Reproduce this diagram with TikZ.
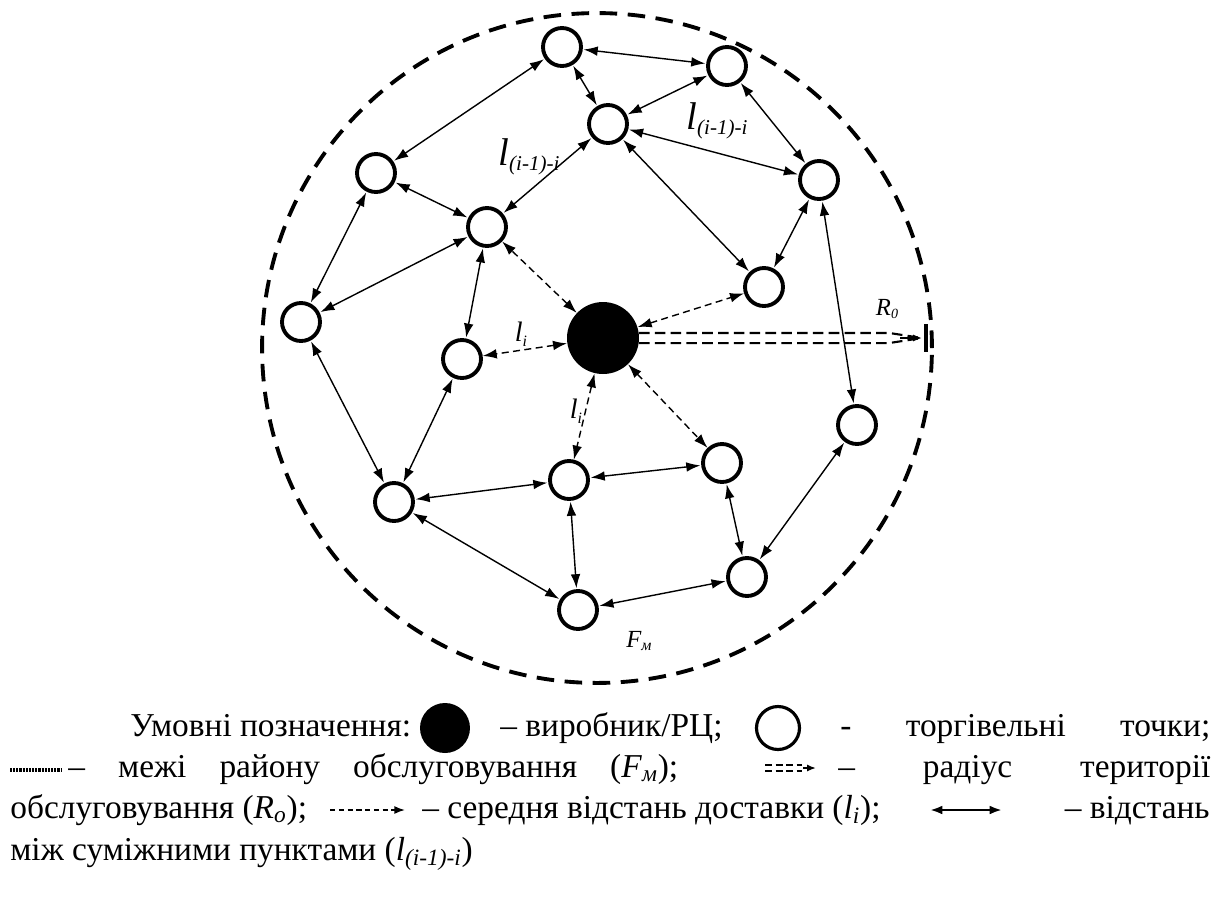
\documentclass[tikz,border=0pt]{standalone}
\usepackage{fontspec}
\setmainfont{Liberation Serif}
\usetikzlibrary{arrows.meta}

\begin{document}
\begin{tikzpicture}[
    x=0.02cm, y=-0.02cm,
    shop/.style={circle, draw, line width=2.2pt, minimum size=0.76cm, inner sep=0pt},
    hub/.style={circle, fill=black, minimum size=1.44cm, inner sep=0pt},
    link/.style={<->, line width=0.8pt, >={Latex[length=8pt,width=5.5pt]}, shorten <=0.5pt, shorten >=0.5pt},
    delivery/.style={<->, line width=0.8pt, dash pattern=on 4pt off 2.5pt, >={Latex[length=8pt,width=5.5pt]}},
    border/.style={line width=2.2pt, dash pattern=on 10pt off 6pt},
    rzone/.style={line width=1.2pt, dash pattern=on 6pt off 3pt},
    lbl/.style={font=\fontsize{14}{16}\selectfont\itshape, inner sep=0pt},
    biglbl/.style={font=\fontsize{22}{26}\selectfont\itshape, inner sep=0pt},
    legtext/.style={font=\fontsize{19}{22}\selectfont, anchor=base west, inner sep=0pt}
]
    \useasboundingbox (0,0) rectangle (1225,897);

    % Service area
    \draw[border] (597,348) circle[radius=6.7cm];

    % Producer / distribution centre
    \node[hub] (core) at (603,338) {};

    % Retail points
    \node[shop] (p1) at (562,47) {};
    \node[shop] (p2) at (727,66) {};
    \node[shop] (p3) at (608,124) {};
    \node[shop] (p4) at (376,173) {};
    \node[shop] (p5) at (819,180) {};
    \node[shop] (p6) at (487,227) {};
    \node[shop] (p7) at (764,287) {};
    \node[shop] (p8) at (301,322) {};
    \node[shop] (p9) at (462,359) {};
    \node[shop] (p10) at (857,425) {};
    \node[shop] (p11) at (722,463) {};
    \node[shop] (p12) at (569,480) {};
    \node[shop] (p13) at (394,502) {};
    \node[shop] (p14) at (747,577) {};
    \node[shop] (p15) at (578,610) {};

    % Links between neighbouring points
    \foreach \a/\b in {p1/p3, p1/p4, p1/p2, p3/p2, p3/p6, p3/p5, p3/p7, p4/p6,
                       p4/p8, p6/p8, p6/p9, p2/p5, p5/p7, p5/p10, p8/p13, p9/p13,
                       p13/p12, p13/p15, p12/p11, p12/p15, p15/p14, p11/p14, p10/p14}
        \draw[link] (\a) -- (\b);

    % Delivery distances
    \foreach \b in {p6, p7, p9, p12, p11}
        \draw[delivery] (core) -- (\b);

    % Radius
    \coordinate (rend) at (922,338);
    \draw[rzone] (core.8) -- ++(250,0) -- (rend);
    \draw[rzone] (core.-8) -- ++(250,0) -- (rend);
    \draw[-{Latex[length=5pt,width=4pt]}, line width=1pt] (900,338) -- (rend);
    \draw[line width=2pt] (926,324) -- (926,352);

    % Labels
    \node[biglbl] (lab1) at (529,157) {l\raisebox{-3pt}{\fontsize{12}{13}\selectfont(i-1)-i}};
    \node[biglbl] (lab2) at (717,121) {l\raisebox{-3pt}{\fontsize{12}{13}\selectfont(i-1)-i}};
    \node[lbl, font=\fontsize{16}{18}\selectfont\itshape] (lab3) at (521,334) {l\raisebox{-3pt}{\fontsize{9}{10}\selectfont i}};
    \node[lbl, font=\fontsize{16}{18}\selectfont\itshape] (lab4) at (576,411) {l\raisebox{-3pt}{\fontsize{9}{10}\selectfont i}};
    \node[lbl] (lab5) at (887,309) {R\raisebox{-2pt}{\fontsize{8}{9}\selectfont 0}};
    \node[lbl] (lab6) at (639,641) {F\raisebox{-2pt}{\fontsize{9}{10}\selectfont м}};

    % Legend
    \node[legtext] (key) at (130,736) {Умовні позначення:};
    \node[hub, minimum size=1.0cm] (keyhub) at (445,728) {};
    \node[legtext] (keyhubtxt) at (500,736) {– виробник/РЦ;};
    \node[shop, minimum size=0.86cm, line width=1.8pt] (keyshop) at (778,728) {};
    \node[legtext] (keyshoptxt) at (840,736) {\makebox[7.4cm][s]{- торгівельні точки;}};

    \draw[line width=2.5pt, dash pattern=on 1.2pt off 0.6pt] (10,770) -- (62,770);
    \node[legtext] (keyborder) at (68,777) {\makebox[12.2cm][s]{– межі району обслуговування (\textit{F}\textsubscript{\textit{м}});}};
    \draw[line width=1.3pt, dash pattern=on 4pt off 2pt] (765,765) -- (802,765) (765,771) -- (802,771);
    \draw[-{Latex[length=5pt,width=4pt]}, line width=1pt] (803,768) -- (816,768);
    \node[legtext] (keyradius) at (838,777) {\makebox[7.44cm][s]{– радіус території}};

    \node[legtext] (keyro) at (10,818) {обслуговування (\textit{R}\textsubscript{\textit{o}});};
    \draw[-{Latex[length=6pt,width=4.5pt]}, line width=0.9pt, dash pattern=on 3pt off 2pt] (330,810) -- (405,810);
    \node[legtext] (keydelivery) at (422,818) {– середня відстань доставки (\textit{l}\textsubscript{\textit{i}});};
    \draw[{Latex[length=7pt,width=5pt]}-{Latex[length=7pt,width=5pt]}, line width=1.3pt] (930,810) -- (1002,810);
    \node[legtext, anchor=base east] (keylink) at (1210,818) {– відстань};

    \node[legtext] (keylinktxt) at (10,860) {між суміжними пунктами (\textit{l}\textsubscript{\textit{(i-1)-i}})};
\end{tikzpicture}
\end{document}
